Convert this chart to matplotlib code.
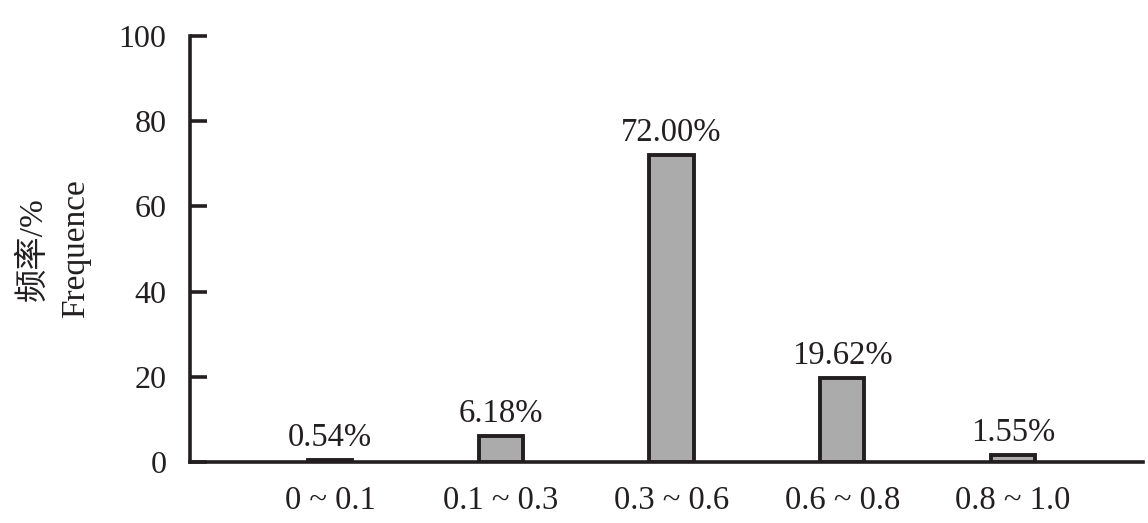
import numpy as np
import matplotlib.pyplot as plt

plt.rcParams['font.family'] = ['Liberation Serif', 'Noto Sans CJK SC']
plt.rcParams['axes.unicode_minus'] = False

categories = ['0 ~ 0.1', '0.1 ~ 0.3', '0.3 ~ 0.6', '0.6 ~ 0.8', '0.8 ~ 1.0']
frequence = [0.54, 6.18, 72.00, 19.62, 1.55]
yticks = [0, 20, 40, 60, 80, 100]

fig = plt.figure(figsize=(11.48, 5.23), dpi=100)
ax = fig.add_axes([0.1655, 0.1166, 0.83, 0.8145])

x = np.arange(len(categories))
bars = ax.bar(x, frequence, width=0.26, color='#ababab', edgecolor='#231f20',
              linewidth=2.8, zorder=3)

for xi, v in zip(x, frequence):     # prosent over hver stolpe
    ax.annotate(f'{v:.2f}%', (xi, v), xytext=(0, 5), textcoords='offset points',
                ha='center', va='bottom', fontsize=23.5, color='#231f20')

ax.set_xlim(-0.82, 4.76)
ax.set_ylim(0, 100)
ax.set_yticks(yticks)
ax.set_xticks(x)
ax.set_xticklabels(categories)

for s in ['top', 'right']:
    ax.spines[s].set_visible(False)
for s in ['left', 'bottom']:
    ax.spines[s].set_linewidth(2.6)
    ax.spines[s].set_color('#231f20')

ax.tick_params(axis='y', direction='in', length=12, width=2.6, color='#231f20',
               labelsize=23, pad=17, labelcolor='#231f20')
ax.tick_params(axis='x', length=0, labelsize=23.5, pad=17, labelcolor='#231f20')

ax.set_ylabel('频率/%\nFrequence', fontsize=24, labelpad=20, color='#231f20',
              linespacing=1.5)

fig.savefig('out.png', dpi=100)
